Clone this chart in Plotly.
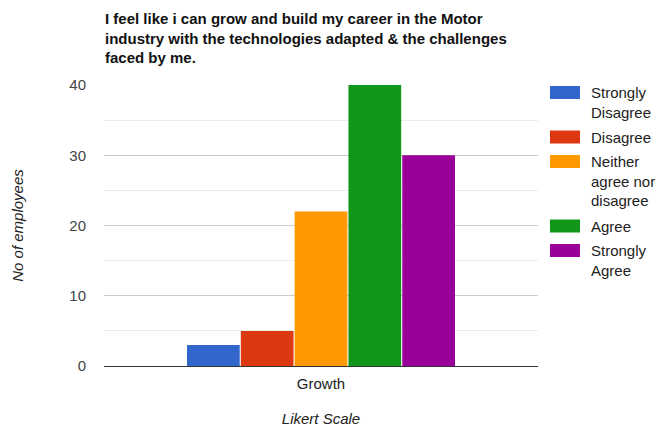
import plotly.graph_objects as go

categories = ["Growth"]
series_names = ["Strongly<br>Disagree", "Disagree", "Neither<br>agree nor<br>disagree", "Agree", "Strongly<br>Agree"]
series_values = [[3], [5], [22], [40], [30]]
colors = ["#3366cc", "#dc3912", "#ff9900", "#109618", "#990099"]
y_ticks = [0, 10, 20, 30, 40]
title_text = "I feel like i can grow and build my career in the Motor<br>industry with the technologies adapted &amp; the challenges<br>faced by me."

# plot area geometry (pixels)
L, R, T, B = 104, 117, 85, 63
W, H = 655, 429
pw, ph = W - L - R, H - T - B

def px_x(x):
    return (x - L) / pw

def px_y(y):
    return (H - B - y) / ph

fig = go.Figure()
for name, vals, c in zip(series_names, series_values, colors):
    fig.add_trace(go.Bar(x=categories, y=vals, name=name.replace("<br>", " "),
                         marker=dict(color=c, line=dict(width=0)), showlegend=False))

fig.add_annotation(
    text="<b>" + title_text + "</b>", xref="paper", yref="paper",
    x=px_x(103), y=px_y(8), xanchor="left", yanchor="top", align="left",
    showarrow=False, font=dict(size=15, color="#111"),
)

# legend (boxes + wrapped labels)
line_h, item_gap = 20, 4.5
top = 86
for name, c in zip(series_names, colors):
    fig.add_shape(type="rect", xref="paper", yref="paper",
                  x0=px_x(550), x1=px_x(580), y0=px_y(top + 13), y1=px_y(top),
                  fillcolor=c, line=dict(width=0))
    fig.add_annotation(text=name, xref="paper", yref="paper",
                       x=px_x(590), y=px_y(top - 3), xanchor="left", yanchor="top",
                       align="left", showarrow=False, borderpad=0,
                       font=dict(size=15, color="#222"))
    top += name.count("<br>") * line_h + line_h + item_gap

fig.update_layout(
    width=W, height=H,
    margin=dict(l=L, r=R, t=T, b=B, autoexpand=False),
    paper_bgcolor="white", plot_bgcolor="white",
    font=dict(family="Arial, Liberation Sans", size=15, color="#222"),
    barmode="group", bargap=0.38, bargroupgap=0.02,
    showlegend=False,
    xaxis=dict(showgrid=False, showline=True, linecolor="#333", linewidth=1,
               tickfont=dict(size=15, color="#222"), ticklabelstandoff=4,
               title=dict(text="<i>Likert Scale</i>", font=dict(size=15, color="#222"), standoff=22)),
    yaxis=dict(range=[0, 40], tickvals=y_ticks, showgrid=True, gridcolor="#cccccc",
               zeroline=True, zerolinecolor="#333", zerolinewidth=1,
               minor=dict(dtick=5, showgrid=True, gridcolor="#ececec"),
               tickfont=dict(size=15, color="#444"), ticks="", ticklabelstandoff=17,
               title=dict(text="<i>No of employees</i>", font=dict(size=15, color="#222"), standoff=42)),
)

fig.write_html("out.html")
